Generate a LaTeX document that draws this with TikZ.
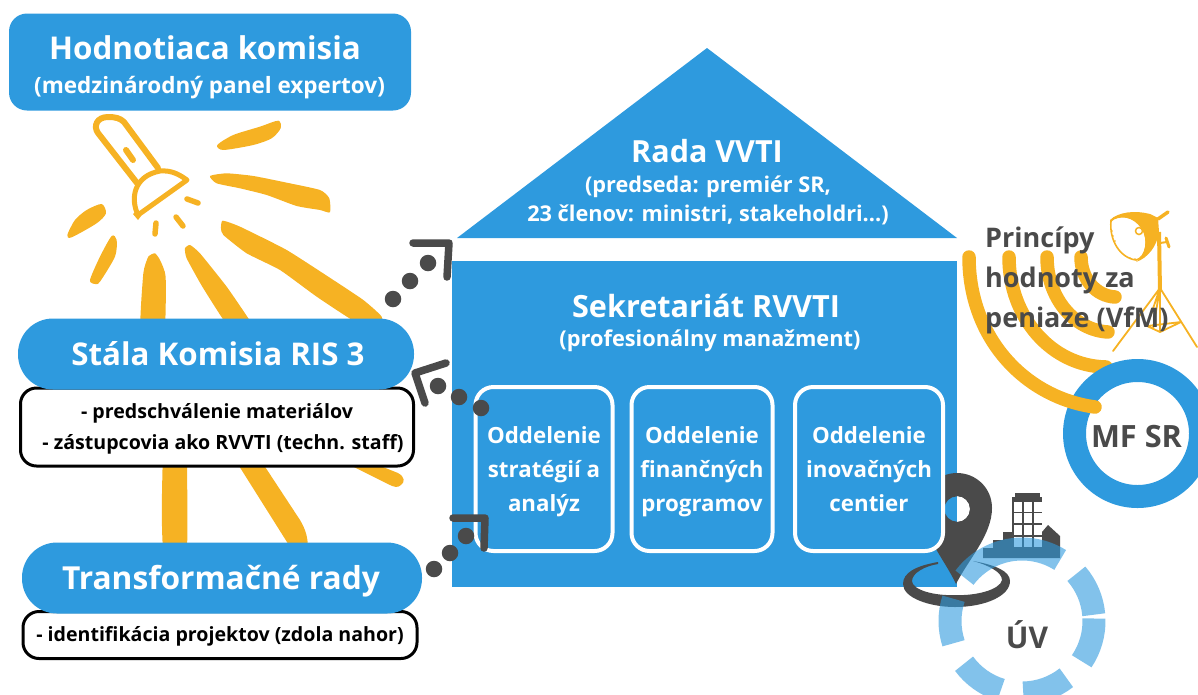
\documentclass[tikz,border=0pt]{standalone}
\usepackage{fontspec}
\setmainfont{Open Sans}
\definecolor{bl}{HTML}{2E9ADE}
\definecolor{yl}{HTML}{F6B223}
\definecolor{dk}{HTML}{4A4A4A}
\newcommand\dstr{\rule[-8.5pt]{0pt}{34pt}}
\newcommand\nstr{\rule[-9pt]{0pt}{31pt}}
\tikzset{
 ray/.style={fill=yl},
 lampline/.style={draw=yl,line width=6pt,line cap=round,line join=round},
 thinlamp/.style={draw=yl,line width=1.8pt,line cap=round,line join=round},
 wave/.style={draw=yl,line width=13.5pt,line cap=round},
 dot/.style={circle,fill=dk,minimum size=16.5pt,inner sep=0pt},
 chev/.style={draw=dk,line width=7.5pt,line cap=round,line join=round},
 pill/.style={fill=bl,rounded corners=#1,inner sep=0pt,text=white,font=\bfseries,align=center},
 note/.style={draw=black,fill=white,line width=3pt,rounded corners=16pt,inner sep=0pt,align=center,font=\bfseries\fontsize{19.6}{31}\selectfont,text=black},
 dept/.style={draw=white,fill=bl,line width=4pt,rounded corners=18pt,inner sep=0pt,align=center,text=white,font=\bfseries\fontsize{22.3}{34}\selectfont},
 lab/.style={inner sep=0pt,align=center},
 seg/.style={draw=bl,line width=23pt,opacity=.6},
}
\begin{document}
\begin{tikzpicture}[x=1pt,y=-1pt]
\useasboundingbox (0,0) rectangle (1198,694);
% rays
\begin{scope}[x=.3333pt,y=-.3333pt,shift={(0,300)}]
\fill[ray] plot[smooth cycle,tension=.45] coordinates {(652,135)(700,105)(780,80)(835,62)(842,85)(815,115)(760,135)(670,150)};
\fill[ray] plot[smooth cycle,tension=.35] coordinates {(630,228)(680,220)(760,228)(860,248)(960,270)(988,295)(990,337)(960,330)(890,318)(800,285)(720,265)(650,250)};
\fill[ray] plot[smooth cycle,tension=.3] coordinates {(668,362)(720,380)(860,450)(1000,540)(1090,600)(1145,650)(1140,690)(1065,665)(950,590)(840,510)(740,460)(670,405)(663,385)};
\fill[ray] plot[smooth cycle,tension=.3] coordinates {(555,445)(570,435)(600,460)(680,560)(745,655)(770,700)(700,700)(610,565)(560,475)};
\fill[ray] plot[smooth cycle,tension=.3] coordinates {(430,520)(445,470)(465,460)(480,480)(497,530)(492,700)(422,700)};
\fill[ray] plot[smooth cycle,tension=.45] coordinates {(270,540)(300,470)(335,408)(350,420)(345,470)(300,545)(285,552)};
\fill[ray] plot[smooth cycle,tension=.45] coordinates {(202,405)(225,360)(260,330)(305,312)(318,340)(290,370)(215,412)};
\end{scope}
% lower rays
\fill[ray] (163,450) -- (187,450) .. controls (187,490) and (188,520) .. (187,550) -- (163,550) .. controls (161,520) and (162,490) .. (163,450) -- cycle;
\fill[ray] (229,450) -- (254,450) -- (300,520) .. controls (306,530) and (308,538) .. (308,550) -- (292,550) -- cycle;
\fill[ray] (340,450) -- (398,473) .. controls (405,477) and (405,482) .. (401,485) .. controls (398,488) and (394,487) .. (390,485) -- (340,460) -- cycle;
% flashlight
\coordinate (fa) at (137,183);\coordinate (fb) at (98,133);\coordinate (fc) at (124,122);\coordinate (fd) at (158,168);
\draw[lampline] (fa) -- (fb) .. controls (93,126) and (97,117) .. (108,117) .. controls (115,117) and (120,118) .. (fc) -- (fd);
\draw[lampline] (126,150) -- (133,160);
\draw[lampline,line width=5pt] (138,215) .. controls (130,198) and (134,176) .. (160,171) .. controls (172,170) and (180,175) .. (187,180) -- cycle;
\draw[lampline,line width=5.5pt] (187,199) -- (198,203) (176,217) -- (183,226) (156,223) -- (155,234);
\fill[yl] (133,214) -- (138,220) -- (141,216) -- (136,211) -- cycle;
% dots and chevrons
\node[dot] (d1) at (393,299) {};
\node[dot] (d2) at (410,281) {};
\node[dot] (d3) at (428,263) {};
\coordinate (c1a) at (413,243);\coordinate (c1b) at (449,243);\coordinate (c1c) at (447,277);
% house
\fill[bl] (707,48) -- (957,238) -- (457,238) -- cycle;
\node[lab,text=white,font=\bfseries\fontsize{30.5}{34}\selectfont] (rada) at (707,151) {Rada VVTI};
\node[lab,text=white,font=\bfseries\fontsize{21.7}{29}\selectfont] (radat) at (708,200) {(predseda: premiér SR,\\23 členov: ministri, stakeholdri...)};
\fill[bl] (452,261) rectangle (957,587);
\node[lab,text=white,font=\bfseries\fontsize{30.6}{34}\selectfont] (sek) at (706,306) {Sekretariát RVVTI};
\node[lab,text=white,font=\bfseries\fontsize{21.8}{30}\selectfont] (sekt) at (710,341) {(profesionálny manažment)};
% pin (behind the third department)
\fill[dk,even odd rule] (956,584) .. controls (945,560) and (922,535) .. (922,508) .. controls (922,488) and (938,473) .. (957,473) .. controls (976,473) and (992,488) .. (992,508) .. controls (992,535) and (968,560) .. (956,584) -- cycle (957,509) circle (12.7);
\fill[white] (957,496.3) arc[start angle=-90,end angle=90,radius=12.7] -- cycle;
\node[dept,minimum width=137pt,minimum height=164pt] (o1) at (544,469) {\dstr Oddelenie\\\dstr stratégií a\\\dstr analýz};
\node[dept,minimum width=141pt,minimum height=164pt] (o2) at (702,469) {\dstr Oddelenie\\\dstr finančných\\\dstr programov};
\node[dept,minimum width=148pt,minimum height=164pt] (o3) at (869,469) {\dstr Oddelenie\\\dstr inovačných\\\dstr centier};
% top box
\node[pill=18pt,minimum width=402pt,minimum height=97pt] (hk) at (210,62) {};
\node[lab,text=white,font=\bfseries\fontsize{31.4}{34}\selectfont] (hk1) at (205,48) {Hodnotiaca komisia};
\node[lab,text=white,font=\bfseries\fontsize{22.5}{26}\selectfont] (hk2) at (209.5,88) {(medzinárodný panel expertov)};
% left pills
\node[note,minimum width=393pt,minimum height=78pt] (n1) at (217,427) {\nstr - predschválenie materiálov\\\nstr\hspace*{12pt}- zástupcovia ako RVVTI (techn. staff)};
\node[pill=35pt,minimum width=396pt,minimum height=71pt] (p1) at (216,354) {};
\node[lab,text=white,font=\bfseries\fontsize{31.3}{34}\selectfont] (p1t) at (218,354) {Stála Komisia RIS 3};
\node[note,minimum width=394pt,minimum height=47pt] (n2) at (220,635) {\nstr - identifikácia projektov (zdola nahor)};
\node[pill=35pt,minimum width=400pt,minimum height=71pt] (p2) at (222,578) {};
\node[lab,text=white,font=\bfseries\fontsize{31.7}{34}\selectfont] (p2t) at (221,581) {Transformačné rady};
% chevrons
\draw[chev] (c1a) -- (c1b) -- (c1c);
\node[dot] (d4) at (481,408) {};
\node[dot] (d5) at (459,397) {};
\node[dot] (d6) at (438,386) {};
\coordinate (c2a) at (446,363);\coordinate (c2b) at (415,373);\coordinate (c2c) at (425,403);
\draw[chev] (c2a) -- (c2b) -- (c2c);
\node[dot] (d7) at (434,569) {};
\node[dot] (d8) at (450,553) {};
\node[dot] (d9) at (466,536) {};
\coordinate (c3a) at (453,518);\coordinate (c3b) at (485,518);\coordinate (c3c) at (484,548);
\draw[chev] (c3a) -- (c3b) -- (c3c);
% lamp
\draw[yl,line width=1.6pt,fill=white] (1111,221) .. controls (1109,240) and (1120,258) .. (1136,260) .. controls (1146,258) and (1150,240) .. (1142,228) .. controls (1134,216) and (1118,212) .. (1111,221) -- cycle;
\fill[yl] (1110,220) .. controls (1118,212) and (1135,210) .. (1150,214) -- (1158,218) -- (1159,232) .. controls (1157,246) and (1148,258) .. (1136,262) .. controls (1146,255) and (1148,240) .. (1142,228) .. controls (1134,217) and (1120,214) .. (1110,222) -- cycle;
\draw[yl,line width=3.5pt,line cap=round] (1158,219) -- (1168,212);
\draw[yl,line width=4pt] (1159,232) -- (1160,292);
\draw[yl,line width=1.5pt,fill=white] (1139,231) circle (3.5);
\draw[yl,line width=3pt,line cap=round] (1166,238) -- (1169,247);
\draw[yl,line width=2pt] (1160,243) -- (1167,242);
\fill[yl] (1112,231) circle (.9) (1113,236) circle (.9) (1115,241) circle (.9) (1130,258) circle (.9) (1135,259) circle (.9);
\draw[thinlamp] (1160,288) -- (1113,351) (1160,288) -- (1197,347) (1160,288) -- (1147,326) (1160,288) -- (1160,332) (1160,288) -- (1153,329) (1147,326) -- (1160,332) -- (1181,322) -- (1147,326);
% waves under the ring
\draw[wave] (1009,257) .. controls (1009,317) and (1051,366) .. (1106,367);
% MF SR
\node[draw=bl,fill=none,circle,line width=23pt,minimum size=126pt,inner sep=0pt] (mf) at (1137.5,433.5) {};
\draw[wave] (969,257) .. controls (969,340) and (1027,398) .. (1095,407);
\draw[wave] (1047,257) .. controls (1047,298) and (1074,330) .. (1108,332);
\draw[wave] (1081,257) .. controls (1081,279) and (1096,296) .. (1115,297);
% text right
\node[lab,anchor=west,text=dk,font=\bfseries\fontsize{27}{40}\selectfont,align=left] (vfm) at (985,280) {Princípy\\hodnoty za\\peniaze (VfM)};
\node[lab,text=dk,font=\bfseries\fontsize{30.7}{34}\selectfont] (mft) at (1136.5,437) {MF SR};
% locator ellipse
\fill[dk,even odd rule] (938,562) .. controls (915,566) and (903,573) .. (903,584) .. controls (903,598) and (930,607) .. (955,607) .. controls (985,607) and (1010,596) .. (1010,581) .. controls (1010,571) and (995,565) .. (973,561) .. controls (988,565) and (1002,572) .. (1002,580) .. controls (1000,590) and (975,596) .. (955,595) .. controls (935,596) and (912,590) .. (912,581) .. controls (912,573) and (925,566) .. (938,564) -- cycle;
% building
\fill[dk] (1015,493) rectangle (1040,500);
\fill[dk] (1012,497) rectangle (1042,558);
\foreach \r/\ya in {0/502,1/513,2/525,3/537}\foreach \xa in {1014,1024,1034}{\fill[white] (\xa,\ya) rectangle ++(8,9.5);}
\fill[dk] (983,558) -- (983,548) -- (993,548) -- (993,540) -- (1003,540) -- (1003,532) -- (1012,532) -- (1012,558) -- (1042,558) -- (1042,532) -- (1048,525) -- (1060,536) -- (1060,558) -- cycle;
% UV ring
\coordinate (uvc) at (1022,621);
\foreach \a/\b in {-41/-5,-2/34,52/89,107/143.6,162/198,-143/-58}{
 \draw[seg] (uvc) ++(\a:72) arc[start angle=\a,end angle=\b,radius=72];}
\node[lab,text=dk,font=\bfseries\fontsize{30}{34}\selectfont] (uv) at (1027,635) {ÚV};
\end{tikzpicture}
\end{document}
